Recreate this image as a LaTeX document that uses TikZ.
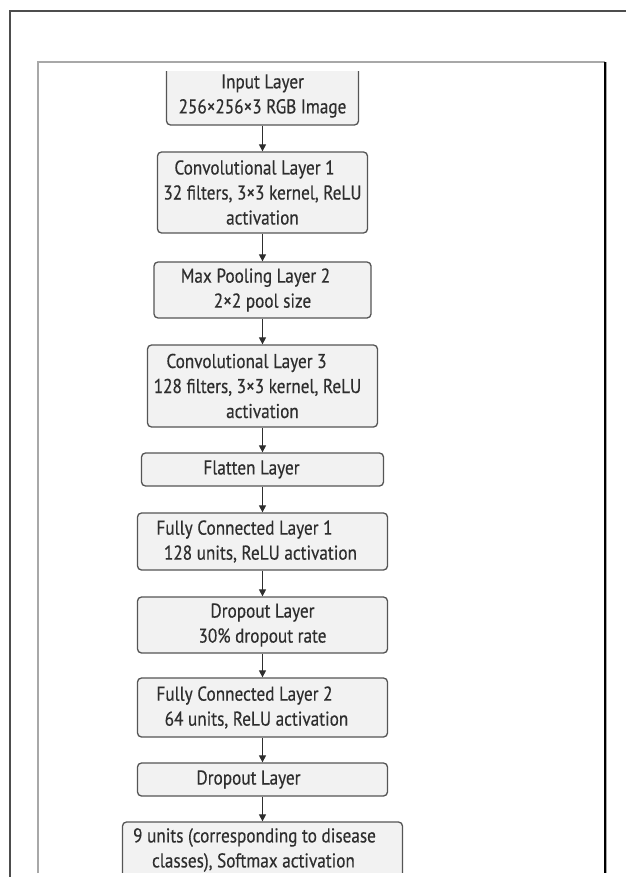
\documentclass[tikz,border=0pt]{standalone}
\usepackage{fontspec}
\setmainfont[FakeStretch=0.86,FakeBold=0.4]{PT Sans}
\usetikzlibrary{arrows.meta}
\definecolor{framedark}{HTML}{4D4D4D}
\definecolor{framelight}{HTML}{A8A8A8}
\definecolor{boxfill}{HTML}{F2F2F2}
\definecolor{boxline}{HTML}{555555}
\definecolor{inktext}{HTML}{2E2E2E}
% push a centred line to the left by half the given amount
\newcommand\padR[1]{\kern#1pt}
\tikzset{
  layerbox/.style={draw=boxline, line width=1.3pt, fill=boxfill, rounded corners=4pt,
    inner sep=0pt, align=center, text=inktext,
    font=\fontsize{20}{25}\selectfont},
  flow/.style={draw=inktext, line width=1.2pt, -{Triangle[width=7pt,length=7pt]}}
}
\begin{document}
\begin{tikzpicture}[x=1pt,y=-1pt]
\useasboundingbox (0,0) rectangle (626,877);
\fill[white] (0,0) rectangle (626,877);

% outer page frame (left and top edges)
\draw[framedark, line width=2pt] (10,877) -- (10,11) -- (626,11);

% inner frame
\draw[framelight, line width=1.4pt] (38,873) -- (38,62) -- (605,62);
\draw[framelight, line width=1pt] (606.5,62) -- (606.5,873);
\draw[black, line width=1.4pt] (605,62) -- (605,873);

% layer stack, clipped to the visible window
\begin{scope}
\clip (39,72) rectangle (604,872);
\node[layerbox, minimum width=192, minimum height=58] (input) at (262.5,96)
  {Input Layer\\256×256×3 RGB Image};
\node[layerbox, minimum width=210, minimum height=81] (conv1) at (262.5,192.5)
  {Convolutional Layer 1\padR{16}\\32 filters, 3×3 kernel, ReLU\\activation};
\node[layerbox, minimum width=217, minimum height=56] (pool) at (262.5,290)
  {Max Pooling Layer 2\padR{14}\\2×2 pool size};
\node[layerbox, minimum width=230, minimum height=82] (conv3) at (262.5,386)
  {Convolutional Layer 3\padR{32}\\128 filters, 3×3 kernel, ReLU\padR{10}\\activation};
\node[layerbox, minimum width=242, minimum height=33] (flatten) at (262.5,469.5)
  {Flatten Layer\padR{22}};
\node[layerbox, minimum width=250, minimum height=57] (fc1) at (262.5,541.5)
  {Fully Connected Layer 1\padR{36}\\128 units, ReLU activation\padR{4}};
\node[layerbox, minimum width=250, minimum height=56] (drop1) at (262.5,625)
  {Dropout Layer\\30\% dropout rate};
\node[layerbox, minimum width=250, minimum height=59] (fc2) at (262.5,707.5)
  {Fully Connected Layer 2\padR{36}\\64 units, ReLU activation\padR{12}};
\node[layerbox, minimum width=250, minimum height=33] (drop2) at (262.5,779.5)
  {Dropout Layer\padR{28}};
\node[layerbox, minimum width=280, minimum height=56] (output) at (262.5,850)
  {9 units (corresponding to disease\padR{16}\\classes), Softmax activation\padR{18}};

\draw[flow] (input) -- (conv1);
\draw[flow] (conv1) -- (pool);
\draw[flow] (pool) -- (conv3);
\draw[flow] (conv3) -- (flatten);
\draw[flow] (flatten) -- (fc1);
\draw[flow] (fc1) -- (drop1);
\draw[flow] (drop1) -- (fc2);
\draw[flow] (fc2) -- (drop2);
\draw[flow] (drop2) -- (output);
\end{scope}
\end{tikzpicture}
\end{document}
